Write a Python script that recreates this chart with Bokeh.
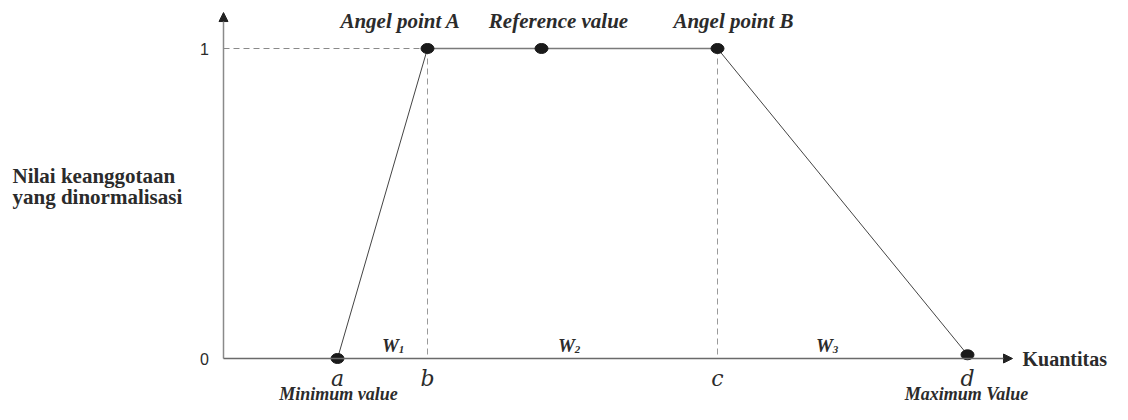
from bokeh.plotting import figure
from bokeh.models import Range1d, Arrow, NormalHead
from bokeh.core.properties import value
from bokeh.embed import file_html
from bokeh.resources import INLINE

# ---- data (quantity axis in arbitrary units, membership 0..1) ----
point_names = ["a", "b", "c", "d"]
point_x = [11.4, 20.4, 49.4, 74.4]          # a, b (angel A), c (angel B), d
membership = [0.0, 1.0, 1.0, 0.012]
ref_x = 31.8
ref_y = 1.0
y_ticks = [0, 1]
y_tick_labels = ["0", "1"]
seg_labels = ["W", "W", "W"]
seg_subs = ["1", "2", "3"]
seg_x = [16.7, 34.3, 60.1]
x_axis_end = 78.9
y_axis_end = 1.116

SERIF = value("Liberation Serif")
TXT = "#2b2b2b"

p = figure(width=1112, height=404, x_range=Range1d(-22.3, 88.9),
           y_range=Range1d(-46 / 310, 1 + 48 / 310),
           x_axis_type=None, y_axis_type=None, toolbar_location=None,
           output_backend="svg", min_border=0)
p.outline_line_color = None
p.grid.visible = False
p.background_fill_color = "white"

# axes with arrow heads
p.add_layout(Arrow(x_start=0, y_start=0, x_end=0, y_end=y_axis_end,
                   line_color="#8a8a8a", line_width=1.5,
                   end=NormalHead(size=9, fill_color="#222", line_color="#222")))
p.add_layout(Arrow(x_start=0, y_start=0, x_end=x_axis_end, y_end=0,
                   line_color="#6a6a6a", line_width=1.5,
                   end=NormalHead(size=9, fill_color="#222", line_color="#222")))

# dashed guides
p.line([0, point_x[1]], [1, 1], line_color="#8a8a8a", line_dash="6 4", line_width=1)
p.segment(x0=[point_x[1], point_x[2]], y0=[1, 1], x1=[point_x[1], point_x[2]], y1=[0, 0],
          line_color="#9a9a9a", line_dash="6 4", line_width=1)

# membership function
p.line(point_x[0:2], membership[0:2], line_color="#444", line_width=1)
p.line(point_x[1:3], membership[1:3], line_color="#7a7a7a", line_width=1.6)
p.line(point_x[2:4], membership[2:4], line_color="#444", line_width=1)

# dots
dot_x = [point_x[0], point_x[1], ref_x, point_x[2], point_x[3]]
dot_y = [membership[0], membership[1], ref_y, membership[2], membership[3]]
p.ellipse(x=dot_x, y=dot_y, width=13, height=10, width_units="screen",
          height_units="screen", fill_color="#1a1a1a", line_color="#1a1a1a")

# tick labels 0 / 1
p.text(x=[0] * 2, y=y_ticks, text=y_tick_labels, x_offset=-19, text_align="center",
       text_baseline="middle", text_font=value("Liberation Sans"),
       text_font_size="16px", text_color=TXT)

# point letters
p.text(x=point_x, y=[0] * 4, text=point_names, y_offset=20, text_align="center",
       text_baseline="middle", text_font=value("DejaVu Serif"), text_font_style="italic",
       text_font_size="22px", text_color=TXT)

# segment widths W1..W3
p.text(x=seg_x, y=[0] * 3, text=seg_labels, y_offset=-13, text_align="center",
       text_baseline="middle", text_font=SERIF, text_font_style="bold italic",
       text_font_size="19px", text_color=TXT)
p.text(x=seg_x, y=[0] * 3, text=seg_subs, x_offset=11, y_offset=-9, text_align="center",
       text_baseline="middle", text_font=SERIF, text_font_style="bold italic",
       text_font_size="11px", text_color=TXT)

# annotations at top
top_texts = ["Angel point A", "Reference value", "Angel point B"]
top_x = [point_x[1], ref_x, point_x[2]]
p.text(x=top_x, y=[1] * 3, text=top_texts, x_offset=[-27, 17, 16], y_offset=-28,
       text_align="center", text_baseline="middle", text_font=SERIF,
       text_font_style="bold italic", text_font_size="21px", text_color=TXT)

# min / max labels
p.text(x=[point_x[0], point_x[3]], y=[0, 0], text=["Minimum value", "Maximum Value"],
       x_offset=[1, -1], y_offset=45, text_align="center", text_baseline="bottom",
       text_font=SERIF, text_font_style="bold italic", text_font_size="18px",
       text_color=TXT)

# axis titles
p.text(x=[x_axis_end], y=[0], text=["Kuantitas"], x_offset=10, text_align="left",
       text_baseline="middle", text_font=SERIF, text_font_style="bold",
       text_font_size="20px", text_color=TXT)
p.text(x=[-21.1, -21.1], y=[0.5, 0.5], text=["Nilai keanggotaan", "yang dinormalisasi"],
       y_offset=[-28, -7], text_align="left", text_baseline="middle", text_font=SERIF,
       text_font_style="bold", text_font_size="21px", text_color=TXT)

open("out.html", "w").write(file_html(p, INLINE))
